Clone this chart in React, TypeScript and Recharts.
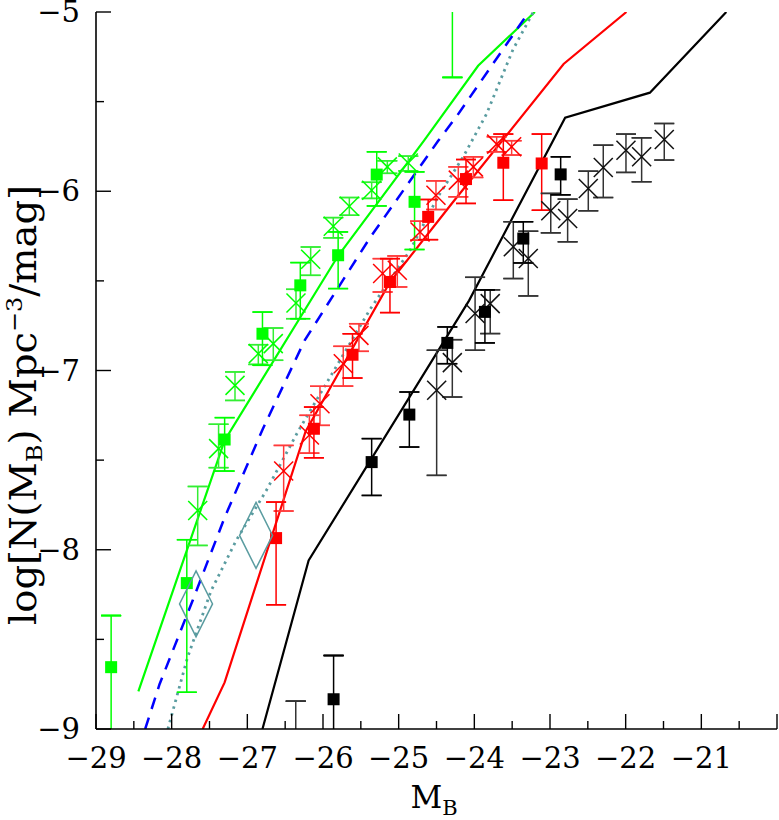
import React from 'react';
import { ComposedChart, Line, Scatter, XAxis, YAxis, ErrorBar } from 'recharts';

// ---------- axis ticks ----------
const xTicks = [-29, -28.5, -28, -27.5, -27, -26.5, -26, -25.5, -25, -24.5, -24, -23.5, -23, -22.5, -22, -21.5, -21, -20.5, -20];
const yTicks = [-9, -8.5, -8, -7.5, -7, -6.5, -6, -5.5, -5];
const X_DOMAIN = [-29, -20];
const Y_DOMAIN = [-9, -5];

// ---------- model curves ----------
const greenModel = [
  { x: -28.44, y: -8.79 }, { x: -27.3, y: -7.39 }, { x: -25.8, y: -6.36 },
  { x: -24.67, y: -5.72 }, { x: -23.95, y: -5.3 }, { x: -23.2, y: -5.0 },
];
const blueModel = [
  { x: -28.35, y: -9.0 }, { x: -28.16, y: -8.75 }, { x: -27.72, y: -8.28 }, { x: -27.3, y: -7.82 },
  { x: -26.8, y: -7.33 }, { x: -26.24, y: -6.83 }, { x: -25.38, y: -6.26 },
  { x: -24.48, y: -5.72 }, { x: -24.23, y: -5.58 }, { x: -23.28, y: -5.0 },
];
const tealModel = [
  { x: -28.05, y: -9.0 }, { x: -27.79, y: -8.6 }, { x: -27.48, y: -8.23 }, { x: -27.15, y: -7.95 },
  { x: -26.75, y: -7.67 }, { x: -26.33, y: -7.34 }, { x: -25.38, y: -6.66 }, { x: -24.85, y: -6.33 },
  { x: -24.48, y: -6.03 }, { x: -24.15, y: -5.81 }, { x: -23.84, y: -5.57 }, { x: -23.49, y: -5.21 },
  { x: -23.22, y: -5.0 },
];
const redModel = [
  { x: -27.59, y: -9.0 }, { x: -27.3, y: -8.74 }, { x: -26.23, y: -7.34 }, { x: -25.12, y: -6.51 },
  { x: -24.3, y: -6.07 }, { x: -22.82, y: -5.29 }, { x: -21.99, y: -5.0 },
];
const blackModel = [
  { x: -26.8, y: -9.0 }, { x: -26.19, y: -8.06 }, { x: -24.07, y: -6.61 }, { x: -22.8, y: -5.59 },
  { x: -21.68, y: -5.45 }, { x: -20.67, y: -5.0 },
];

// ---------- data points (x, y, lower bound, upper bound) ----------
const greenSquares = [
  { x: -28.8, y: -8.655, lo: -9.4, hi: -8.367 },
  { x: -27.8, y: -8.186, lo: -8.795, hi: -7.944 },
  { x: -27.3, y: -7.385, lo: -7.561, hi: -7.263 },
  { x: -26.8, y: -6.795, lo: -6.971, hi: -6.674 },
  { x: -26.3, y: -6.525, lo: -6.711, hi: -6.398 },
  { x: -25.8, y: -6.357, lo: -6.543, hi: -6.227 },
  { x: -25.29, y: -5.907, lo: -6.082, hi: -5.78 },
  { x: -24.79, y: -6.059, lo: -6.325, hi: -5.892 },
  { x: -24.29, y: -4.8, lo: -5.365, hi: -4.6 },
];
const greenCrosses = [
  { x: -27.656, y: -7.781, lo: -7.976, hi: -7.647 },
  { x: -27.38, y: -7.436, lo: -7.542, hi: -7.3 },
  { x: -27.163, y: -7.083, lo: -7.167, hi: -7.008 },
  { x: -26.855, y: -6.906, lo: -6.966, hi: -6.856 },
  { x: -26.657, y: -6.85, lo: -6.943, hi: -6.763 },
  { x: -26.357, y: -6.623, lo: -6.711, hi: -6.547 },
  { x: -26.163, y: -6.379, lo: -6.469, hi: -6.311 },
  { x: -25.864, y: -6.195, lo: -6.26, hi: -6.147 },
  { x: -25.652, y: -6.084, lo: -6.134, hi: -6.035 },
  { x: -25.357, y: -5.994, lo: -6.04, hi: -5.95 },
  { x: -25.15, y: -5.864, lo: -5.9, hi: -5.83 },
  { x: -24.873, y: -5.842, lo: -5.886, hi: -5.804 },
];
const redSquares = [
  { x: -26.62, y: -7.935, lo: -8.307, hi: -7.734 },
  { x: -26.12, y: -7.325, lo: -7.487, hi: -7.204 },
  { x: -25.61, y: -6.912, lo: -7.042, hi: -6.795 },
  { x: -25.115, y: -6.506, lo: -6.677, hi: -6.376 },
  { x: -24.61, y: -6.143, lo: -6.27, hi: -6.046 },
  { x: -24.11, y: -5.932, lo: -6.068, hi: -5.823 },
  { x: -23.617, y: -5.841, lo: -6.05, hi: -5.681 },
  { x: -23.11, y: -5.845, lo: -6.106, hi: -5.681 },
];
const redCrosses = [
  { x: -26.52, y: -7.561, lo: -7.784, hi: -7.418 },
  { x: -26.18, y: -7.36, lo: -7.461, hi: -7.25 },
  { x: -26.04, y: -7.185, lo: -7.306, hi: -7.088 },
  { x: -25.732, y: -6.962, lo: -7.087, hi: -6.865 },
  { x: -25.525, y: -6.804, lo: -6.893, hi: -6.739 },
  { x: -25.212, y: -6.459, lo: -6.562, hi: -6.376 },
  { x: -25.018, y: -6.441, lo: -6.534, hi: -6.361 },
  { x: -24.718, y: -6.227, lo: -6.273, hi: -6.167 },
  { x: -24.507, y: -6.022, lo: -6.102, hi: -5.942 },
  { x: -24.212, y: -5.938, lo: -6.031, hi: -5.864 },
  { x: -24.013, y: -5.864, lo: -5.923, hi: -5.808 },
  { x: -23.705, y: -5.737, lo: -5.78, hi: -5.696 },
  { x: -23.507, y: -5.752, lo: -5.798, hi: -5.718 },
];
const blackSquares = [
  { x: -25.86, y: -8.834, lo: -9.4, hi: -8.59 },
  { x: -25.357, y: -7.511, lo: -7.697, hi: -7.38 },
  { x: -24.859, y: -7.246, lo: -7.427, hi: -7.12 },
  { x: -24.357, y: -6.846, lo: -6.962, hi: -6.757 },
  { x: -23.86, y: -6.673, lo: -6.846, hi: -6.55 },
  { x: -23.353, y: -6.264, lo: -6.4, hi: -6.17 },
  { x: -22.859, y: -5.906, lo: -6.02, hi: -5.808 },
];
const blackCrosses = [
  { x: -26.36, y: -9.3, lo: -9.6, hi: -8.845 },
  { x: -24.498, y: -7.11, lo: -7.585, hi: -6.887 },
  { x: -24.291, y: -6.956, lo: -7.148, hi: -6.828 },
  { x: -23.99, y: -6.682, lo: -6.887, hi: -6.48 },
  { x: -23.79, y: -6.627, lo: -6.794, hi: -6.55 },
  { x: -23.485, y: -6.31, lo: -6.487, hi: -6.17 },
  { x: -23.287, y: -6.375, lo: -6.584, hi: -6.223 },
  { x: -22.99, y: -6.109, lo: -6.232, hi: -6.012 },
  { x: -22.767, y: -6.152, lo: -6.282, hi: -6.044 },
  { x: -22.494, y: -5.985, lo: -6.109, hi: -5.888 },
  { x: -22.296, y: -5.867, lo: -6.035, hi: -5.743 },
  { x: -21.996, y: -5.771, lo: -5.895, hi: -5.681 },
  { x: -21.789, y: -5.808, lo: -5.947, hi: -5.702 },
  { x: -21.49, y: -5.711, lo: -5.826, hi: -5.622 },
];
const tealDiamonds = [
  { x: -27.678, y: -8.302 },
  { x: -26.885, y: -7.92 },
];

// ---------- styling ----------
const GREEN = '#00ff00';
const RED = '#ff0000';
const BLACK = '#000000';
const BLUE = '#0000ff';
const TEAL = '#5a9ca0';
const FONT = '"DejaVu Serif", serif';
const MAJOR = 15;
const MINOR = 8;

type Pt = { x: number; y: number; lo: number; hi: number };
// error bars are cut at the frame; a cap is only drawn where the bound lies inside it
const withErr = (arr: Pt[]) =>
  arr.map((p) => {
    const bLo = Math.max(p.lo, Y_DOMAIN[0]);
    const bHi = Math.min(p.hi, Y_DOMAIN[1]);
    const loCap = p.lo >= Y_DOMAIN[0] ? p.lo : p.hi;
    const hiCap = p.hi <= Y_DOMAIN[1] ? p.hi : p.lo;
    return {
      x: p.x,
      y: p.y,
      bar: [p.y - bLo, bHi - p.y],
      capLo: [p.y - loCap, loCap - p.y],
      capHi: [p.y - hiCap, hiCap - p.y],
    };
  });

const inside = (v: number) => v >= Y_DOMAIN[0] && v <= Y_DOMAIN[1];
const isMajor = (v: number) => Math.abs(v - Math.round(v)) < 1e-6;
const fmt = (v: number) => (v < 0 ? '\u2212' + Math.abs(v) : String(v));

const BottomTick = (props: any) => {
  const { x, y, payload } = props;
  const v = payload.value;
  const len = isMajor(v) ? MAJOR : MINOR;
  return (
    <g>
      <line x1={x} x2={x} y1={y} y2={y - len} stroke="#000" strokeWidth={1.4} />
      {isMajor(v) && v < X_DOMAIN[1] && (
        <text x={x} y={y + 39} textAnchor="middle" fontFamily={FONT} fontSize={29} fill="#000">
          {fmt(v)}
        </text>
      )}
    </g>
  );
};
const TopTick = (props: any) => {
  const { x, y, payload } = props;
  const len = isMajor(payload.value) ? MAJOR : MINOR;
  return <line x1={x} x2={x} y1={y} y2={y + len} stroke="#000" strokeWidth={1.4} />;
};
const LeftTick = (props: any) => {
  const { x, y, payload } = props;
  const v = payload.value;
  const len = isMajor(v) ? MAJOR : MINOR;
  return (
    <g>
      <line x1={x} x2={x + len} y1={y} y2={y} stroke="#000" strokeWidth={1.4} />
      {isMajor(v) && (
        <text x={x - 16} y={y + 10} textAnchor="end" fontFamily={FONT} fontSize={29} fill="#000">
          {fmt(v)}
        </text>
      )}
    </g>
  );
};
const RightTick = (props: any) => {
  const { x, y, payload } = props;
  const len = isMajor(payload.value) ? MAJOR : MINOR;
  return <line x1={x} x2={x - len} y1={y} y2={y} stroke="#000" strokeWidth={1.4} />;
};

const squareShape = (color: string) => (props: any) => {
  const { cx, cy, payload } = props;
  if (!payload || !inside(payload.y)) return <g />;
  return <rect x={cx - 6} y={cy - 6} width={12} height={12} fill={color} />;
};
const crossShape = (color: string) => (props: any) => {
  const { cx, cy, payload } = props;
  if (!payload || !inside(payload.y)) return <g />;
  const s = 9.5;
  return (
    <g stroke={color} strokeWidth={1.5}>
      <line x1={cx - s} y1={cy - s} x2={cx + s} y2={cy + s} />
      <line x1={cx - s} y1={cy + s} x2={cx + s} y2={cy - s} />
    </g>
  );
};
const diamondShape = (props: any) => {
  const { cx, cy } = props;
  const w = 16.5;
  const h = 33;
  return (
    <polygon
      points={`${cx},${cy - h} ${cx + w},${cy} ${cx},${cy + h} ${cx - w},${cy}`}
      fill="none"
      stroke={TEAL}
      strokeWidth={1.5}
    />
  );
};

const YLabel = () => (
  <text
    x={36}
    y={405}
    transform="rotate(-90 36 405)"
    textAnchor="middle"
    fontFamily={FONT}
    fontSize={37}
    fill="#000"
    textLength={440}
    lengthAdjust="spacingAndGlyphs"
  >
    log[N(M
    <tspan fontSize={23} dy={6}>B</tspan>
    <tspan dy={-6}>) Mpc</tspan>
    <tspan fontSize={23} dy={-14}>{'\u22123'}</tspan>
    <tspan dy={14}>/mag]</tspan>
  </text>
);

const XLabel = () => (
  <text x={434} y={808} textAnchor="middle" fontFamily={FONT} fontSize={31} fill="#000">
    M<tspan fontSize={21} dy={7}>B</tspan>
  </text>
);

const Bars = (color: string) => [
  <ErrorBar key="bar" dataKey="bar" direction="y" width={0} stroke={color} strokeWidth={1.5} />,
  <ErrorBar key="lo" dataKey="capLo" direction="y" width={10} stroke={color} strokeWidth={1.5} />,
  <ErrorBar key="hi" dataKey="capHi" direction="y" width={10} stroke={color} strokeWidth={1.5} />,
];

export default function App() {
  const gs = withErr(greenSquares);
  const gx = withErr(greenCrosses);
  const rs = withErr(redSquares);
  const rx = withErr(redCrosses);
  const bs = withErr(blackSquares);
  const bx = withErr(blackCrosses);
  const ax = { xAxisId: 'main', yAxisId: 'main' } as const;
  return (
    <div style={{ position: 'absolute', left: 0, top: 0, width: 779, height: 820, background: '#fff' }}>
      <ComposedChart width={779} height={820} margin={{ top: 12, right: 2, left: 0, bottom: 0 }}>
        <XAxis
          xAxisId="main"
          dataKey="x"
          type="number"
          domain={X_DOMAIN}
          allowDataOverflow
          ticks={xTicks}
          interval={0}
          orientation="bottom"
          height={91}
          tickSize={0}
          tickMargin={0}
          tickLine={false}
          axisLine={{ stroke: '#000', strokeWidth: 1.6 }}
          tick={<BottomTick />}
          label={{ content: <XLabel /> }}
        />
        <XAxis
          xAxisId="top"
          type="number"
          domain={X_DOMAIN}
          allowDataOverflow
          ticks={xTicks}
          interval={0}
          orientation="top"
          height={0}
          tickSize={0}
          tickMargin={0}
          tickLine={false}
          axisLine={{ stroke: '#000', strokeWidth: 1.6 }}
          tick={<TopTick />}
        />
        <YAxis
          yAxisId="main"
          dataKey="y"
          type="number"
          domain={Y_DOMAIN}
          allowDataOverflow
          ticks={yTicks}
          interval={0}
          orientation="left"
          width={96}
          tickSize={0}
          tickMargin={0}
          tickLine={false}
          axisLine={{ stroke: '#000', strokeWidth: 1.6 }}
          tick={<LeftTick />}
          label={{ content: <YLabel /> }}
        />
        <YAxis
          yAxisId="right"
          type="number"
          domain={Y_DOMAIN}
          allowDataOverflow
          ticks={yTicks}
          interval={0}
          orientation="right"
          width={0}
          tickSize={0}
          tickMargin={0}
          tickLine={false}
          axisLine={{ stroke: '#000', strokeWidth: 1.6 }}
          tick={<RightTick />}
        />

        <Line {...ax} data={greenModel} dataKey="y" type="linear" stroke={GREEN} strokeWidth={2.2} dot={false} isAnimationActive={false} />
        <Line {...ax} data={blueModel} dataKey="y" type="linear" stroke={BLUE} strokeWidth={2.5} strokeDasharray="12 9" dot={false} isAnimationActive={false} />
        <Line {...ax} data={tealModel} dataKey="y" type="linear" stroke={TEAL} strokeWidth={2.8} strokeDasharray="2.5 4.5" dot={false} isAnimationActive={false} />
        <Line {...ax} data={redModel} dataKey="y" type="linear" stroke={RED} strokeWidth={2.2} dot={false} isAnimationActive={false} />
        <Line {...ax} data={blackModel} dataKey="y" type="linear" stroke={BLACK} strokeWidth={2.2} dot={false} isAnimationActive={false} />

        <Scatter {...ax} data={gx} dataKey="y" shape={crossShape(GREEN)} isAnimationActive={false}>
          {Bars('#33ee33')}
        </Scatter>
        <Scatter {...ax} data={gs} dataKey="y" shape={squareShape(GREEN)} isAnimationActive={false}>
          {Bars(GREEN)}
        </Scatter>
        <Scatter {...ax} data={rx} dataKey="y" shape={crossShape(RED)} isAnimationActive={false}>
          {Bars('#ff3a3a')}
        </Scatter>
        <Scatter {...ax} data={rs} dataKey="y" shape={squareShape(RED)} isAnimationActive={false}>
          {Bars(RED)}
        </Scatter>
        <Scatter {...ax} data={bx} dataKey="y" shape={crossShape('#111')} isAnimationActive={false}>
          {Bars('#333')}
        </Scatter>
        <Scatter {...ax} data={bs} dataKey="y" shape={squareShape(BLACK)} isAnimationActive={false}>
          {Bars(BLACK)}
        </Scatter>
        <Scatter {...ax} data={tealDiamonds} dataKey="y" shape={diamondShape} isAnimationActive={false} />
      </ComposedChart>
    </div>
  );
}
